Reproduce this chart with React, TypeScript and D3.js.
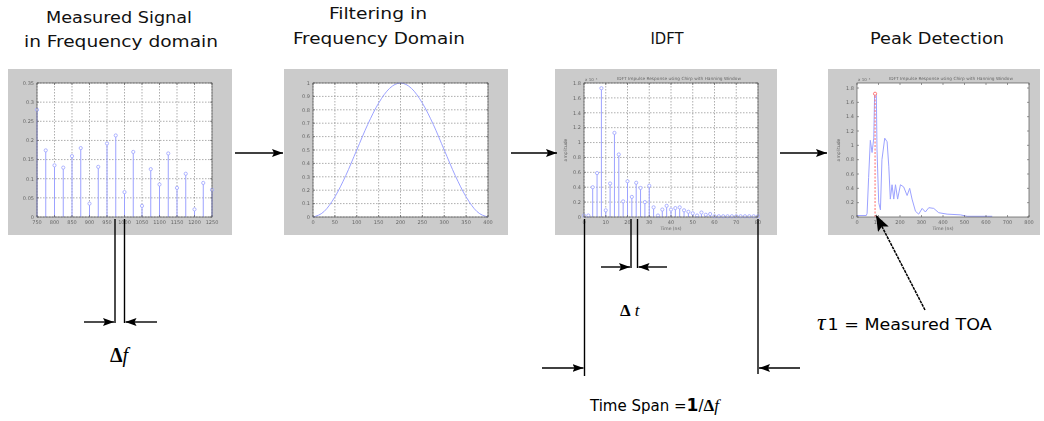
import * as d3 from "d3";

// panel 1: measured signal in frequency domain (stem plot)
const P1_FREQ = [750, 775, 800, 825, 850, 875, 900, 925, 950, 975, 1000, 1025, 1050, 1075, 1100, 1125, 1150, 1175, 1200, 1225, 1250];
const P1_MAG = [0.28, 0.174, 0.135, 0.129, 0.159, 0.18, 0.035, 0.131, 0.192, 0.213, 0.065, 0.17, 0.029, 0.125, 0.085, 0.166, 0.076, 0.113, 0.02, 0.089, 0.071];
const P1_X_TICKS = [750, 800, 850, 900, 950, 1000, 1050, 1100, 1150, 1200, 1250];
const P1_Y_TICKS = [0, 0.05, 0.1, 0.15, 0.2, 0.25, 0.3, 0.35];

// panel 2: hanning window
const HANN_X = [0, 25, 50, 75, 100, 125, 150, 175, 200, 225, 250, 275, 300, 325, 350, 375, 400];
const HANN_Y = [0, 0.04, 0.15, 0.31, 0.5, 0.69, 0.85, 0.96, 1.0, 0.96, 0.85, 0.69, 0.5, 0.31, 0.15, 0.04, 0];
const P2_X_TICKS = [0, 50, 100, 150, 200, 250, 300, 350, 400];
const P2_Y_TICKS = [0, 0.1, 0.2, 0.3, 0.4, 0.5, 0.6, 0.7, 0.8, 0.9, 1];

// panel 3: IDFT impulse response (stems)
const IDFT_T = [0, 2, 4, 6, 8, 10, 12, 14, 16, 18, 20, 22, 24, 26, 28, 30, 32, 34, 36, 38, 40, 42, 44, 46, 48, 50, 52, 54, 56, 58, 60, 62, 64, 66, 68, 70, 72, 74, 76, 78, 80];
const IDFT_AMP = [0.02, 0.02, 0.4, 0.59, 1.73, 0.09, 0.45, 1.13, 0.84, 0.21, 0.48, 0.27, 0.46, 0.39, 0.2, 0.42, 0.13, 0.02, 0.1, 0.15, 0.1, 0.12, 0.13, 0.09, 0.07, 0.05, 0.02, 0.06, 0.03, 0.04, 0.01, 0.01, 0.01, 0.01, 0.01, 0.01, 0.01, 0.01, 0.01, 0.01, 0.01];
const P3_X_TICKS = [0, 10, 20, 30, 40, 50, 60, 70, 80];
const AMP_TICKS = [0, 0.2, 0.4, 0.6, 0.8, 1, 1.2, 1.4, 1.6, 1.8];

// panel 4: peak detection
const PEAK_T = [0, 43, 47, 54, 62, 70, 78, 82, 90, 93, 101, 109, 116, 129, 140, 148, 155, 163, 171, 179, 189, 202, 217, 233, 245, 256, 272, 287, 303, 318, 334, 357, 380, 419, 481, 512, 606, 629];
const PEAK_AMP = [0.02, 0.02, 0.05, 0.55, 1.07, 0.9, 1.1, 1.73, 1.7, 0.95, 0.2, 0.1, 0.8, 1.1, 1.05, 0.7, 0.25, 0.45, 0.25, 0.45, 0.25, 0.45, 0.42, 0.3, 0.4, 0.25, 0.08, 0.04, 0.12, 0.07, 0.13, 0.12, 0.06, 0.04, 0.03, 0.01, 0.01, 0.01];
const TOA_T = 84;
const TOA_AMP = 1.72;
const P4_X_TICKS = [0, 100, 200, 300, 400, 500, 600, 700, 800];

const BLUE = "#9ca2ff";
const GRAY_BG = "#cbcbcb";

type Rect = { x0: number; x1: number; y0: number; y1: number };

function Panel({
  box,
  plot,
  xDomain,
  yDomain,
  xTicks,
  yTicks,
  grid,
  title,
  xLabel,
  yLabel,
  exponent,
  children,
}: {
  box: Rect;
  plot: Rect;
  xDomain: [number, number];
  yDomain: [number, number];
  xTicks: number[];
  yTicks: number[];
  grid: boolean;
  title?: string;
  xLabel?: string;
  yLabel?: string;
  exponent?: boolean;
  children: (x: d3.ScaleLinear<number, number>, y: d3.ScaleLinear<number, number>) => any;
}) {
  const x = d3.scaleLinear().domain(xDomain).range([plot.x0, plot.x1]);
  const y = d3.scaleLinear().domain(yDomain).range([plot.y1, plot.y0]);
  return (
    <g>
      <rect x={box.x0} y={box.y0} width={box.x1 - box.x0} height={box.y1 - box.y0} fill={GRAY_BG} />
      <g filter="url(#soft)">
        <rect x={plot.x0} y={plot.y0} width={plot.x1 - plot.x0} height={plot.y1 - plot.y0} fill="#fff" />
        {grid &&
          xTicks.map((t, i) => (
            <line key={"gx" + i} x1={x(t)} x2={x(t)} y1={plot.y0} y2={plot.y1} stroke="#777" strokeWidth={0.6} strokeDasharray="1.5,1.5" />
          ))}
        {grid &&
          yTicks.map((t, i) => (
            <line key={"gy" + i} x1={plot.x0} x2={plot.x1} y1={y(t)} y2={y(t)} stroke="#777" strokeWidth={0.6} strokeDasharray="1.5,1.5" />
          ))}
        {children(x, y)}
        <rect x={plot.x0} y={plot.y0} width={plot.x1 - plot.x0} height={plot.y1 - plot.y0} fill="none" stroke="#555" strokeWidth={0.7} />
        {xTicks.map((t, i) => (
          <g key={"xt" + i}>
            <line x1={x(t)} x2={x(t)} y1={plot.y1} y2={plot.y1 - 2} stroke="#555" strokeWidth={0.6} />
            <line x1={x(t)} x2={x(t)} y1={plot.y0} y2={plot.y0 + 2} stroke="#555" strokeWidth={0.6} />
            <text x={x(t)} y={plot.y1 + 7} fontSize={5} fill="#666" textAnchor="middle" fontFamily="DejaVu Sans">
              {t}
            </text>
          </g>
        ))}
        {yTicks.map((t, i) => (
          <g key={"yt" + i}>
            <line x1={plot.x0} x2={plot.x0 + 2} y1={y(t)} y2={y(t)} stroke="#555" strokeWidth={0.6} />
            <line x1={plot.x1} x2={plot.x1 - 2} y1={y(t)} y2={y(t)} stroke="#555" strokeWidth={0.6} />
            <text x={plot.x0 - 3} y={y(t) + 1.8} fontSize={5} fill="#666" textAnchor="end" fontFamily="DejaVu Sans">
              {t}
            </text>
          </g>
        ))}
        {exponent && (
          <text x={plot.x0 + 1} y={plot.y0 - 2.5} fontSize={4} fill="#666" fontFamily="DejaVu Sans">
            x 10⁻³
          </text>
        )}
        {title && (
          <text x={(plot.x0 + plot.x1) / 2 + 8} y={plot.y0 - 3} fontSize={4.3} fill="#666" textAnchor="middle" fontFamily="DejaVu Sans">
            {title}
          </text>
        )}
        {xLabel && (
          <text x={(plot.x0 + plot.x1) / 2} y={plot.y1 + 13} fontSize={4.5} fill="#666" textAnchor="middle" fontFamily="DejaVu Sans">
            {xLabel}
          </text>
        )}
        {yLabel && (
          <text
            transform={`translate(${plot.x0 - 17},${(plot.y0 + plot.y1) / 2}) rotate(-90)`}
            fontSize={4.5}
            fill="#666"
            textAnchor="middle"
            fontFamily="DejaVu Sans"
          >
            {yLabel}
          </text>
        )}
      </g>
    </g>
  );
}

function Stems({ xs, ys, x, y }: { xs: number[]; ys: number[]; x: any; y: any }) {
  return (
    <g>
      {xs.map((v, i) => (
        <g key={i}>
          <line x1={x(v)} x2={x(v)} y1={y(0)} y2={y(ys[i])} stroke={BLUE} strokeWidth={1} />
          <circle cx={x(v)} cy={y(ys[i])} r={1.6} fill="#fff" stroke={BLUE} strokeWidth={0.8} />
        </g>
      ))}
    </g>
  );
}

export default function App() {
  const title = "IDFT Impulse Response using Chirp with Hanning Window";
  const titleFont = "'DejaVu Sans Condensed', 'DejaVu Sans', sans-serif";

  return (
    <svg width={1044} height={421} style={{ position: "absolute", left: 0, top: 0, background: "#fff" }}>
      <defs>
        <filter id="soft" x="-5%" y="-5%" width="110%" height="110%">
          <feGaussianBlur stdDeviation={0.35} />
        </filter>
        <marker id="ah" viewBox="0 0 11 8" refX={11} refY={4} markerWidth={11} markerHeight={8} markerUnits="userSpaceOnUse" orient="auto">
          <path d="M0,0 L11,4 L0,8 L2,4 z" fill="#000" />
        </marker>
        <marker id="ahBig" viewBox="0 0 16 12" refX={16} refY={6} markerWidth={16} markerHeight={12} markerUnits="userSpaceOnUse" orient="auto">
          <path d="M0,0 L16,6 L0,12 L3,6 z" fill="#000" />
        </marker>
      </defs>

      {/* headings */}
      <g fontFamily={titleFont} fontSize={16} fill="#111" textAnchor="middle">
        <text x={119} y={23} textLength={146} lengthAdjust="spacingAndGlyphs">Measured Signal</text>
        <text x={121} y={47} textLength={194} lengthAdjust="spacingAndGlyphs">in Frequency domain</text>
        <text x={378} y={19} textLength={98} lengthAdjust="spacingAndGlyphs">Filtering in</text>
        <text x={379} y={44} textLength={172} lengthAdjust="spacingAndGlyphs">Frequency Domain</text>
        <text x={667} y={44} textLength={33} lengthAdjust="spacingAndGlyphs">IDFT</text>
        <text x={937} y={44} textLength={134} lengthAdjust="spacingAndGlyphs">Peak Detection</text>
      </g>

      <Panel
        box={{ x0: 8, x1: 232, y0: 69, y1: 235 }}
        plot={{ x0: 37, x1: 212, y0: 83, y1: 217 }}
        xDomain={[750, 1250]}
        yDomain={[0, 0.35]}
        xTicks={P1_X_TICKS}
        yTicks={P1_Y_TICKS}
        grid
      >
        {(x, y) => <Stems xs={P1_FREQ} ys={P1_MAG} x={x} y={y} />}
      </Panel>

      <Panel
        box={{ x0: 284, x1: 508, y0: 69, y1: 235 }}
        plot={{ x0: 313, x1: 488, y0: 83, y1: 217 }}
        xDomain={[0, 400]}
        yDomain={[0, 1]}
        xTicks={P2_X_TICKS}
        yTicks={P2_Y_TICKS}
        grid
      >
        {(x, y) => {
          const pts = HANN_X.map((v, i) => [x(v), y(HANN_Y[i])] as [number, number]);
          const gen = d3.line().curve(d3.curveMonotoneX);
          return <path d={gen(pts) || ""} fill="none" stroke={BLUE} strokeWidth={1} />;
        }}
      </Panel>

      <Panel
        box={{ x0: 555, x1: 777, y0: 69, y1: 235 }}
        plot={{ x0: 584, x1: 758, y0: 83, y1: 217 }}
        xDomain={[0, 80]}
        yDomain={[0, 1.8]}
        xTicks={P3_X_TICKS}
        yTicks={AMP_TICKS}
        grid
        exponent
        title={title}
        xLabel="Time (ns)"
        yLabel="amplitude"
      >
        {(x, y) => <Stems xs={IDFT_T} ys={IDFT_AMP} x={x} y={y} />}
      </Panel>

      <Panel
        box={{ x0: 828, x1: 1040, y0: 69, y1: 235 }}
        plot={{ x0: 857, x1: 1029, y0: 83, y1: 217 }}
        xDomain={[0, 800]}
        yDomain={[0, 1.87]}
        xTicks={P4_X_TICKS}
        yTicks={AMP_TICKS}
        grid={false}
        exponent
        title={title}
        xLabel="Time (ns)"
        yLabel="amplitude"
      >
        {(x, y) => {
          const gen = d3
            .line<number>()
            .x((d, i) => x(PEAK_T[i]))
            .y((d) => y(d));
          return (
            <g>
              <path d={gen(PEAK_AMP) || ""} fill="none" stroke={BLUE} strokeWidth={1} />
              <line x1={x(TOA_T)} x2={x(TOA_T)} y1={y(0)} y2={y(TOA_AMP)} stroke="#ff6a6a" strokeWidth={1} strokeDasharray="2,1.5" />
              <circle cx={x(TOA_T)} cy={y(TOA_AMP)} r={1.6} fill="#fff" stroke="#ff6a6a" strokeWidth={0.9} />
            </g>
          );
        }}
      </Panel>

      {/* flow arrows between panels */}
      <g stroke="#000" strokeWidth={1.6}>
        <line x1={235} y1={153} x2={283} y2={153} markerEnd="url(#ah)" />
        <line x1={511} y1={153} x2={557} y2={153} markerEnd="url(#ah)" />
        <line x1={780} y1={153} x2={827} y2={153} markerEnd="url(#ah)" />
      </g>

      {/* delta f annotation */}
      <g stroke="#000" strokeWidth={1.4}>
        <line x1={115} y1={219} x2={115} y2={323} />
        <line x1={124.5} y1={219} x2={124.5} y2={323} />
        <line x1={84} y1={322} x2={114} y2={322} markerEnd="url(#ah)" />
        <line x1={157} y1={322} x2={125.5} y2={322} markerEnd="url(#ah)" />
      </g>
      <text x={110} y={362} fontSize={20} fontFamily="'Liberation Serif', serif" fill="#000">
        <tspan fontWeight="bold">Δ</tspan>
        <tspan fontStyle="italic">f</tspan>
      </text>

      {/* delta t and time span annotation */}
      <g stroke="#000" strokeWidth={1.4}>
        <line x1={631} y1={219} x2={631} y2={268} />
        <line x1={637.5} y1={219} x2={637.5} y2={268} />
        <line x1={601} y1={267} x2={630} y2={267} markerEnd="url(#ah)" />
        <line x1={667} y1={267} x2={638.5} y2={267} markerEnd="url(#ah)" />
        <line x1={584.5} y1={219} x2={584.5} y2={376} />
        <line x1={758} y1={219} x2={758} y2={374} />
        <line x1={542} y1={368} x2={583.5} y2={368} markerEnd="url(#ah)" />
        <line x1={800} y1={368} x2={759} y2={368} markerEnd="url(#ah)" />
      </g>
      <text x={620} y={316} fontSize={17} fontFamily="'Liberation Serif', serif" fill="#000">
        <tspan fontWeight="bold">Δ</tspan>
        <tspan fontStyle="italic" dx={4}>t</tspan>
      </text>
      <text x={590} y={411} fontSize={15} fontFamily="'DejaVu Sans', sans-serif" fill="#000">
        <tspan>Time Span =</tspan>
        <tspan fontWeight="bold" fontSize={17}>1</tspan>
        <tspan>/</tspan>
        <tspan fontWeight="bold" fontFamily="'Liberation Serif', serif" fontSize={17}>Δ</tspan>
        <tspan fontStyle="italic" fontFamily="'Liberation Serif', serif" fontSize={17}>f</tspan>
      </text>

      {/* TOA annotation */}
      <line x1={925} y1={310} x2={876} y2={215} stroke="#000" strokeWidth={1.5} strokeDasharray="3,0.8" markerEnd="url(#ahBig)" />
      <text x={817} y={330} fill="#000">
        <tspan fontFamily="'Liberation Serif', serif" fontStyle="italic" fontSize={24}>τ</tspan>
        <tspan fontFamily="'DejaVu Sans', sans-serif" fontSize={15} dx={2} textLength={164} lengthAdjust="spacingAndGlyphs">1 = Measured TOA</tspan>
      </text>
    </svg>
  );
}
